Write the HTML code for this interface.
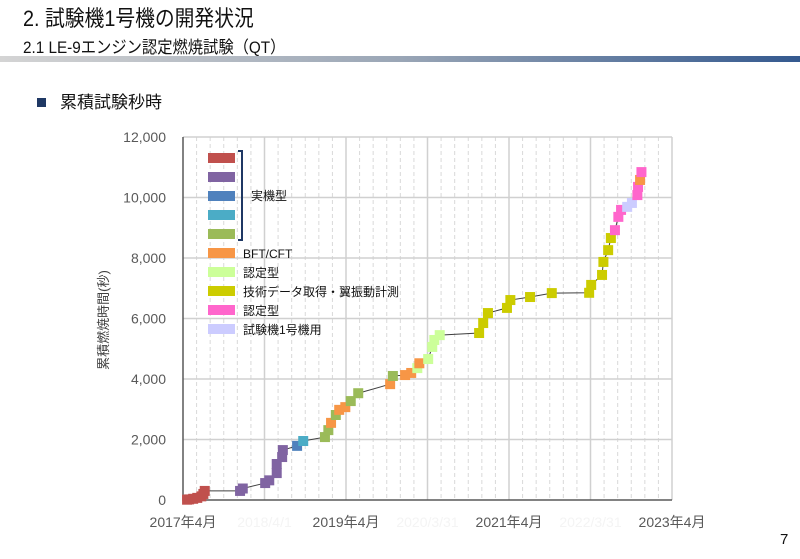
<!DOCTYPE html>
<html><head><meta charset="utf-8"><style>
body{margin:0;width:800px;height:554px;background:#fff;overflow:hidden;font-family:"Liberation Sans","Noto Sans CJK JP",sans-serif;}
svg text{font-family:"Liberation Sans","Noto Sans CJK JP",sans-serif;}
</style></head><body>
<svg id="chart" width="800" height="554" viewBox="0 0 800 554">
<defs><linearGradient id="hg" x1="0" x2="1"><stop offset="0" stop-color="#d4d4d4"/><stop offset="0.5" stop-color="#9aa6b6"/><stop offset="1" stop-color="#34598f"/></linearGradient></defs>
<text x="23" y="26" font-size="22" fill="#111" transform="translate(23 0) scale(0.9 1) translate(-23 0)">2. 試験機1号機の開発状況</text>
<text x="23" y="53" font-size="17" fill="#111" transform="translate(23 0) scale(0.9 1) translate(-23 0)">2.1 LE-9エンジン認定燃焼試験（QT）</text>
<rect x="0" y="56" width="800" height="6" fill="url(#hg)"/>
<rect x="37" y="98" width="9" height="9" fill="#1f3864"/>
<text x="60" y="108" font-size="17" fill="#111">累積試験秒時</text>
<text x="780" y="544" font-size="15" fill="#111">7</text>
<g id="grid"></g><g id="axes"></g><g id="series"></g><g id="legend"></g>
</svg>
<script>
const months=[0.6,0.9,1.5,2.1,2.7,3.0,3.2, 8.4,8.8,12.1,12.7,13.8,13.8,14.6,14.7, 16.8,17.7, 20.9,21.4,21.8,22.5,23.0,23.9,24.7,25.8, 30.5,30.9,32.7,33.6,34.5,34.8,36.1,36.7,37.0,37.8, 43.6,44.2,44.9,47.7,48.2,51.1,54.3,59.8,60.1,61.7,61.9,62.6,63.0, 63.6,64.1,64.5,65.4,66.1,66.9,67.0,67.3,67.5];
const values=[10,20,40,70,120,200,300, 300,380,560,650,890,1190,1420,1650, 1790,1950, 2080,2310,2550,2810,2980,3070,3270,3530, 3830,4100,4130,4200,4360,4520,4660,5060,5290,5450, 5520,5850,6180,6350,6610,6710,6840,6850,7110,7440,7870,8260,8660, 8920,9360,9590,9690,9820,10080,10350,10580,10840];
const seriesIdx=[0,0,0,0,0,0,0, 1,1,1,1,1,1,1,1, 2,3, 4,4,5,4,5,5,4,4, 5,4,5,5,6,5,6,6,6,6, 7,7,7,7,7,7,7,7,7,7,7,7,7, 8,8,8,9,9,8,8,5,8];
const seriesColors=["#c0504d","#8064a2","#4f81bd","#4bacc6","#9bbb59","#f79646","#ccff99","#cccc00","#ff66cc","#ccccff"];
const legendLabels=["","","","","","BFT/CFT","認定型","技術データ取得・翼振動計測","認定型","試験機1号機用"];
const yTicks=[0,2000,4000,6000,8000,10000,12000];
const xTickLabels=["2017年4月","2018/4/1","2019年4月","2020/3/31","2021年4月","2022/3/31","2023年4月"];
const NS="http://www.w3.org/2000/svg";
const X0=183,X1=672,Y0=500,Y1=137,MMAX=72;
const xs=m=>X0+(X1-X0)*m/MMAX, ys=v=>Y0-(Y0-Y1)*v/12000;
function mk(tag,attrs,parent){const e=document.createElementNS(NS,tag);for(const k in attrs)e.setAttribute(k,attrs[k]);parent.appendChild(e);return e;}
const grid=document.getElementById('grid'),axes=document.getElementById('axes'),ser=document.getElementById('series'),leg=document.getElementById('legend');
for(let m=2;m<MMAX;m+=2){if(m%12===0)continue;const l=mk('line',{x1:xs(m),x2:xs(m),y1:Y1,y2:Y0,stroke:'#d9d9d9','stroke-dasharray':'4 3','stroke-width':1},grid);

}
for(let i=1;i<xTickLabels.length;i++){const l=mk('line',{x1:xs(i*12),x2:xs(i*12),y1:Y1,y2:Y0,stroke:'#d0d0d0','stroke-width':1.5},grid);

}
yTicks.forEach(v=>{if(v>0){const l=mk('line',{x1:X0,x2:X1,y1:ys(v),y2:ys(v),stroke:'#d0d0d0','stroke-width':1.5},grid);

}
const t=mk('text',{x:166,y:ys(v)+5,'text-anchor':'end','font-size':14,fill:'#595959'},axes);t.textContent=v.toLocaleString('en-US');

});
const ax=mk('path',{d:`M${X0} ${Y1}V${Y0}H${X1}`,stroke:'#595959','stroke-width':1.5,fill:'none'},axes);


xTickLabels.forEach((s,i)=>{const t=mk('text',{x:xs(i*12),y:527,'text-anchor':'middle','font-size':14,fill:i%2?'#f4f4f4':'#595959'},axes);t.textContent=s;

});
const yt=mk('text',{x:0,y:0,'font-size':13,fill:'#404040','text-anchor':'middle',transform:'translate(108 320) rotate(-90)'},axes);yt.textContent='累積燃焼時間(秒)';


const pl=mk('polyline',{points:months.map((m,i)=>xs(m)+','+ys(values[i])).join(' '),fill:'none',stroke:'#404040','stroke-width':1},ser);


months.forEach((m,i)=>{const r=mk('rect',{x:xs(m)-5,y:ys(values[i])-5,width:10,height:10,fill:seriesColors[seriesIdx[i]]},ser);

});
seriesColors.forEach((c,i)=>{const y=153+i*19;const r=mk('rect',{x:208,y:y,width:27,height:10,fill:c},leg);


if(legendLabels[i]){const t=mk('text',{x:243,y:y+10,'font-size':12,fill:'#111'},leg);t.textContent=legendLabels[i];

}});
const br=mk('path',{d:'M238 151H242V240H238',stroke:'#1f3864','stroke-width':2,fill:'none'},leg);


const bt=mk('text',{x:251,y:200,'font-size':12,fill:'#111'},leg);bt.textContent='実機型';


</script>
</body></html>
